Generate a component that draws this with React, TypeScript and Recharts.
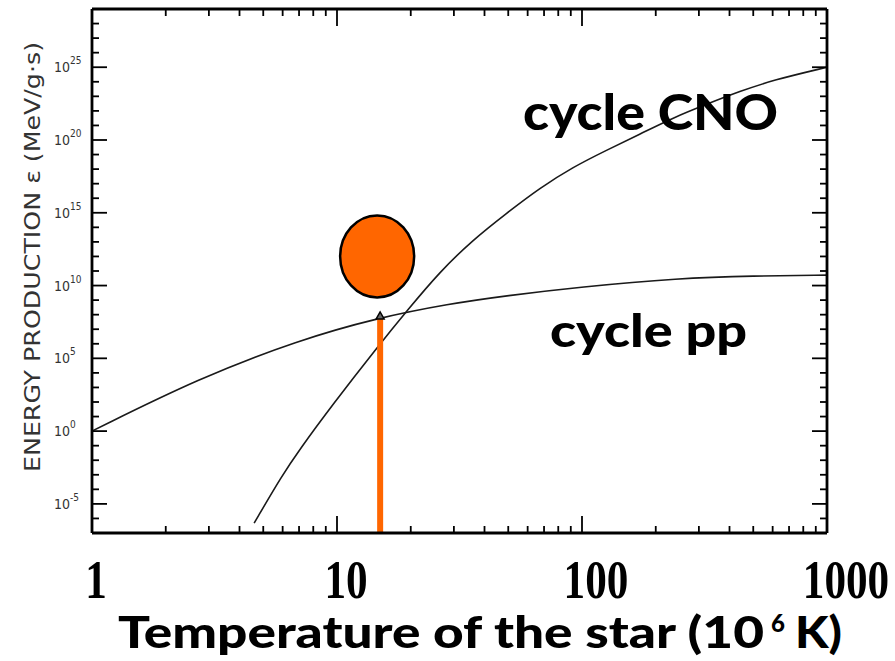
import React from 'react';
import { LineChart, Line, XAxis, YAxis, ReferenceDot } from 'recharts';

// Proton-proton chain: temperature (10^6 K) and energy production (MeV/g·s)
const ppTemperature = [1, 2.74, 7, 14.5, 28.8, 49, 97.7, 250, 500, 1000];
const ppRate = [1, 4.4e3, 1.8e6, 5.8e7, 5.6e8, 2.0e9, 7.9e9, 3.2e10, 4.6e10, 5.2e10];

// CNO cycle
const cnoTemperature = [4.59, 5.98, 7.01, 9.57, 14.5, 19.7, 26.2, 35.7, 49.2, 67.1, 91.6, 126, 172, 234, 323, 441, 601, 1000];
const cnoRate = [4.8e-7, 9.5e-4, 0.05, 62, 5.0e5, 2.8e8, 8.3e10, 1.3e13, 9.3e14, 4.9e16, 1.35e18, 2.0e19, 2.5e20, 3.2e21, 2.9e22, 2.2e23, 1.3e24, 1.0e25];

// The Sun: core temperature and its marker
const sunTemperature = 15;
const sunBarBase = 1e-7;
const sunBarTop = 6e7;
const sunMarkerRate = 1e12;

// Axes
const xDomain = [1, 1000];
const yDomain = [1e-7, 1e29];
const xTicks = [1, 2, 3, 4, 5, 6, 7, 8, 9, 10, 20, 30, 40, 50, 60, 70, 80, 90, 100, 200, 300, 400, 500, 600, 700, 800, 900, 1000];
const xMajorTicks = [10, 100];
const xLabels = [1, 10, 100, 1000];
const yTickExponents = [-6, -5, -4, -3, -2, -1, 0, 1, 2, 3, 4, 5, 6, 7, 8, 9, 10, 11, 12, 13, 14, 15, 16, 17, 18, 19, 20, 21, 22, 23, 24, 25, 26, 27, 28];
const yLabelExponents = [-5, 0, 5, 10, 15, 20, 25];
const yTicks = yTickExponents.map((e) => Math.pow(10, e));

const ppData = ppTemperature.map((t, i) => ({ t, e: ppRate[i] }));
const cnoData = cnoTemperature.map((t, i) => ({ t, e: cnoRate[i] }));
const sunBar = [
  { t: sunTemperature, e: sunBarBase },
  { t: sunTemperature, e: sunBarTop },
];

const ORANGE = '#FF6600';
const INK = '#000';
const SCAN = '#333';
const NARROW = "'Liberation Sans Narrow', 'DejaVu Sans Condensed', 'Liberation Sans', sans-serif";
const CASUAL = "'Comic Sans MS', Lato, 'DejaVu Sans', sans-serif";

const expOf = (v: number) => Math.round(Math.log10(v));

const BottomTick = (props: any) => {
  const { x, y, payload } = props;
  const v = payload.value;
  const len = xMajorTicks.includes(v) ? 17 : 7;
  const li = xLabels.indexOf(v);
  return (
    <g>
      <line x1={x} y1={y} x2={x} y2={y - len} stroke={INK} strokeWidth={1.8} />
      {li >= 0 && (
        <text
          transform={`translate(${x + 4 + li * 5}, 598) scale(0.8, 1)`}
          textAnchor="middle"
          fontFamily="'Liberation Serif', 'Times New Roman', serif"
          fontWeight="bold"
          fontSize={54}
          fill={INK}
        >
          {String(v)}
        </text>
      )}
    </g>
  );
};

const TopTick = (props: any) => {
  const { x, y, payload } = props;
  const len = xMajorTicks.includes(payload.value) ? 17 : 7;
  return <line x1={x} y1={y} x2={x} y2={y + len} stroke={INK} strokeWidth={1.8} />;
};

const LeftTick = (props: any) => {
  const { x, y, payload } = props;
  const exp = expOf(payload.value);
  const major = yLabelExponents.includes(exp);
  return (
    <g>
      <line x1={x} y1={y} x2={x + (major ? 15 : 7)} y2={y} stroke={INK} strokeWidth={1.8} />
      {major && (
        <text x={x - 38} y={y + 5} fill={SCAN} fontSize={14} fontFamily={NARROW}>
          10
          <tspan fontSize={10} dy={-8}>
            {String(exp)}
          </tspan>
        </text>
      )}
    </g>
  );
};

const RightTick = (props: any) => {
  const { x, y, payload } = props;
  const major = yLabelExponents.includes(expOf(payload.value));
  return <line x1={x} y1={y} x2={x - (major ? 15 : 7)} y2={y} stroke={INK} strokeWidth={1.8} />;
};

const yTitle = () => (
  <text
    transform="rotate(-90)"
    x={-257}
    y={40}
    textAnchor="middle"
    fontSize={21}
    fontFamily={NARROW}
    fill={SCAN}
    textLength={430}
    lengthAdjust="spacingAndGlyphs"
  >
    ENERGY PRODUCTION ε (MeV/g·s)
  </text>
);

const xTitle = () => (
  <g fontFamily={CASUAL} fontWeight={900} fill={INK}>
    <text x={118} y={648} fontSize={44} textLength={646} lengthAdjust="spacingAndGlyphs">
      Temperature of the star (10
    </text>
    <text x={771} y={632} fontSize={24}>
      6
    </text>
    <text x={795} y={648} fontSize={44} textLength={47} lengthAdjust="spacingAndGlyphs">
      K)
    </text>
  </g>
);

const seriesNames = () => (
  <g fontFamily={CASUAL} fontWeight={900} fill={INK}>
    <text x={523} y={130} fontSize={50} textLength={255} lengthAdjust="spacingAndGlyphs">
      cycle CNO
    </text>
    <text x={550} y={347} fontSize={46} textLength={197} lengthAdjust="spacingAndGlyphs">
      cycle pp
    </text>
  </g>
);

const BarTip = (props: any) => {
  const { cx, cy, index } = props;
  if (index !== 1) return <g key={`tip-${index}`} />;
  return (
    <polygon
      key="tip"
      points={`${cx},${cy - 6} ${cx - 4},${cy + 1} ${cx + 4},${cy + 1}`}
      fill="#666"
      stroke={INK}
      strokeWidth={1.5}
    />
  );
};

const SunDisc = (props: any) => (
  <ellipse cx={props.cx - 3} cy={props.cy} rx={37} ry={41} fill={ORANGE} stroke={INK} strokeWidth={2.5} />
);

export default function App() {
  return (
    <div style={{ position: 'absolute', left: 0, top: 0, width: 895, height: 661, background: '#fff' }}>
      <LineChart width={895} height={661} margin={{ top: 0, right: 0, bottom: 0, left: 0 }}>
        <XAxis
          xAxisId="b"
          type="number"
          dataKey="t"
          scale="log"
          domain={xDomain}
          allowDataOverflow
          ticks={xTicks}
          interval={0}
          height={128}
          tickSize={0}
          tickMargin={0}
          tickLine={false}
          axisLine={{ stroke: INK, strokeWidth: 2.8 }}
          tick={BottomTick}
          label={xTitle}
        />
        <XAxis
          xAxisId="t"
          orientation="top"
          type="number"
          dataKey="t"
          scale="log"
          domain={xDomain}
          allowDataOverflow
          ticks={xTicks}
          interval={0}
          height={9}
          tickSize={0}
          tickMargin={0}
          tickLine={false}
          axisLine={{ stroke: INK, strokeWidth: 2.8 }}
          tick={TopTick}
          label={seriesNames}
        />
        <YAxis
          yAxisId="l"
          type="number"
          scale="log"
          domain={yDomain}
          allowDataOverflow
          ticks={yTicks}
          interval={0}
          width={92}
          tickSize={0}
          tickMargin={0}
          tickLine={false}
          axisLine={{ stroke: INK, strokeWidth: 2.8 }}
          tick={LeftTick}
          label={yTitle}
        />
        <YAxis
          yAxisId="r"
          orientation="right"
          type="number"
          scale="log"
          domain={yDomain}
          allowDataOverflow
          ticks={yTicks}
          interval={0}
          width={68}
          tickSize={0}
          tickMargin={0}
          tickLine={false}
          axisLine={{ stroke: INK, strokeWidth: 2.8 }}
          tick={RightTick}
        />
        <Line
          xAxisId="b"
          yAxisId="l"
          data={ppData}
          dataKey="e"
          type="basis"
          stroke="#1a1a1a"
          strokeWidth={1.6}
          dot={false}
          isAnimationActive={false}
        />
        <Line
          xAxisId="b"
          yAxisId="l"
          data={cnoData}
          dataKey="e"
          type="basis"
          stroke="#1a1a1a"
          strokeWidth={1.6}
          dot={false}
          isAnimationActive={false}
        />
        <Line
          xAxisId="b"
          yAxisId="l"
          data={sunBar}
          dataKey="e"
          type="linear"
          stroke={ORANGE}
          strokeWidth={6}
          dot={BarTip}
          isAnimationActive={false}
        />
        <ReferenceDot
          xAxisId="b"
          yAxisId="l"
          x={sunTemperature}
          y={sunMarkerRate}
          r={40}
          shape={SunDisc}
        />
      </LineChart>
    </div>
  );
}
